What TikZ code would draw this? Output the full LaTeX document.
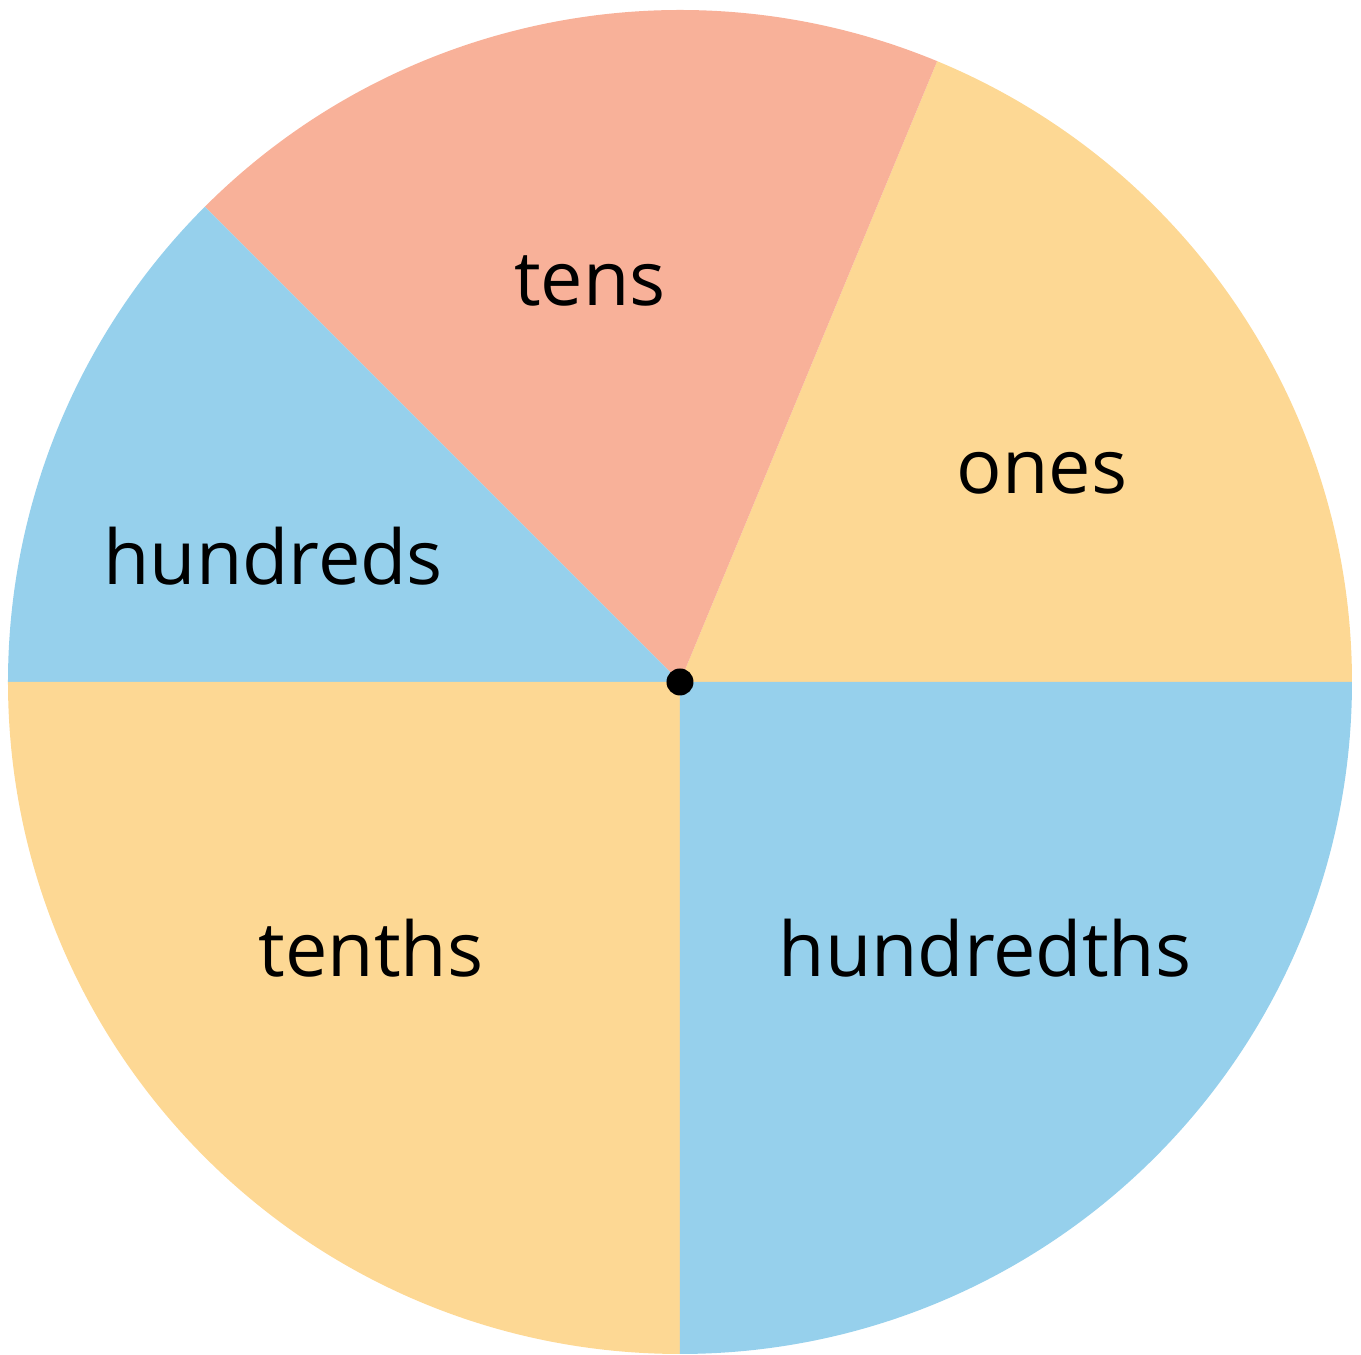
\documentclass[tikz,border=0pt]{standalone}
\usepackage{fontspec}
\setmainfont{Open Sans}
\usepackage{xcolor}
\usepackage{tikz}

\definecolor{sectorblue}{HTML}{96D0EC}
\definecolor{sectoryellow}{HTML}{FDD894}
\definecolor{sectorsalmon}{HTML}{F8B199}

\begin{document}
\begin{tikzpicture}[
  font=\fontsize{21.5}{25}\selectfont,
  sector/.style={draw=none},
  lbl/.style={inner sep=0pt,anchor=center}
]
\useasboundingbox (-6.80,-6.73) rectangle (6.81,6.82);

% centre of the spinner
\coordinate (ctr) at (0,0);

% ===================== sectors =====================
\fill[sector,sectoryellow] (ctr) -- (0:6.72) arc[start angle=0,end angle=67.5,radius=6.72] -- cycle;
\fill[sector,sectorsalmon] (ctr) -- (67.5:6.72) arc[start angle=67.5,end angle=135,radius=6.72] -- cycle;
\fill[sector,sectorblue] (ctr) -- (135:6.72) arc[start angle=135,end angle=180,radius=6.72] -- cycle;
\fill[sector,sectoryellow] (ctr) -- (180:6.72) arc[start angle=180,end angle=270,radius=6.72] -- cycle;
\fill[sector,sectorblue] (ctr) -- (270:6.72) arc[start angle=270,end angle=360,radius=6.72] -- cycle;

% ===================== labels =====================
\node[lbl] (tens) at (-0.90,4.01) {tens};
\node[lbl] (ones) at (3.62,2.09) {ones};
\node[lbl] (hundreds) at (-4.07,1.26) {hundreds};
\node[lbl] (tenths) at (-3.09,-2.66) {tenths};
\node[lbl] (hundredths) at (3.05,-2.66) {hundredths};

% pivot
\fill[black] (ctr) circle[radius=0.135];

\end{tikzpicture}
\end{document}
